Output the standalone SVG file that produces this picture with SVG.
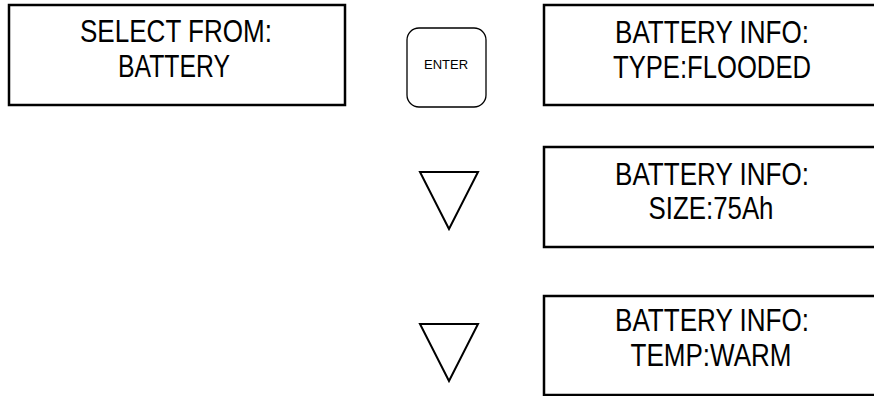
<svg xmlns="http://www.w3.org/2000/svg" width="874" height="396" viewBox="0 0 874 396">
<style>
.box{fill:#fff;stroke:#000;stroke-width:2.5}
.btn{fill:#fff;stroke:#000;stroke-width:1.3}
.tri{fill:#fff;stroke:#000;stroke-width:2;stroke-linejoin:miter}
.t{font-family:"Liberation Sans",Arial,sans-serif;font-size:32px;fill:#000;text-anchor:middle}
.s{font-family:"Liberation Sans",Arial,sans-serif;font-size:13px;fill:#000;text-anchor:middle}
</style>
<rect width="874" height="396" fill="#fff"/>
<g id="select">
<rect class="box" x="9" y="5" width="336" height="100"/>
<text class="t" x="176" y="42" textLength="192" lengthAdjust="spacingAndGlyphs">SELECT FROM:</text>
<text class="t" x="174" y="77" textLength="112" lengthAdjust="spacingAndGlyphs">BATTERY</text>
</g>
<g id="enter">
<rect class="btn" x="407" y="28" width="79" height="79" rx="12" ry="12"/>
<text class="s" x="446" y="69">ENTER</text>
</g>
<g id="type">
<rect class="box" x="544" y="5" width="340" height="100"/>
<text class="t" x="712" y="43" textLength="194" lengthAdjust="spacingAndGlyphs">BATTERY INFO:</text>
<text class="t" x="712" y="78" textLength="198" lengthAdjust="spacingAndGlyphs">TYPE:FLOODED</text>
</g>
<g id="down1">
<polygon class="tri" points="420,172 478,172 449,229"/>
</g>
<g id="size">
<rect class="box" x="544" y="147" width="340" height="100"/>
<text class="t" x="712" y="185" textLength="194" lengthAdjust="spacingAndGlyphs">BATTERY INFO:</text>
<text class="t" x="711" y="219" textLength="125" lengthAdjust="spacingAndGlyphs">SIZE:75Ah</text>
</g>
<g id="down2">
<polygon class="tri" points="420,324 478,324 449,381"/>
</g>
<g id="temp">
<rect class="box" x="544" y="296" width="340" height="99"/>
<text class="t" x="712" y="331" textLength="194" lengthAdjust="spacingAndGlyphs">BATTERY INFO:</text>
<text class="t" x="711" y="366" textLength="161" lengthAdjust="spacingAndGlyphs">TEMP:WARM</text>
</g>
<g id="connectors"></g>
</svg>
